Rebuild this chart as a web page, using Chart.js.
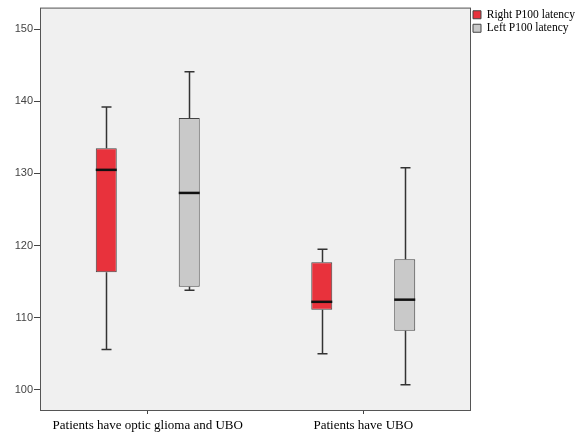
<!DOCTYPE html>
<html><head><meta charset="utf-8">
<script src="https://cdn.jsdelivr.net/npm/chart.js@4.4.1/dist/chart.umd.min.js"></script>
<style>html,body{margin:0;padding:0;background:#fff}#wrap{width:584px;height:432px}</style>
</head><body><div id="wrap"><canvas id="c" width="584" height="432"></canvas></div>
<script>
const categories = ['Patients have optic glioma and UBO', 'Patients have UBO'];
const seriesNames = ['Right P100 latency', 'Left P100 latency'];
const rightMin    = [105.6, 105.0];
const rightQ1     = [116.3, 111.1];
const rightMedian = [130.5, 112.2];
const rightQ3     = [133.5, 117.7];
const rightMax    = [139.2, 119.5];
const leftMin     = [113.8, 100.7];
const leftQ1      = [114.3, 108.2];
const leftMedian  = [127.3, 112.5];
const leftQ3      = [137.7, 118.1];
const leftMax     = [144.1, 130.8];
const yTicks = [100, 110, 120, 130, 140, 150];

const boxPlugin = {
  id: 'boxWhiskers',
  beforeDraw(chart) {
    const {ctx, chartArea: a} = chart;
    ctx.save();
    ctx.fillStyle = '#f0f0f0';
    ctx.fillRect(a.left, a.top, a.right - a.left, a.bottom - a.top);
    ctx.restore();
  },
  afterDatasetsDraw(chart) {
    const ctx = chart.ctx;
    const ys = chart.scales.y;
    chart.data.datasets.forEach((ds, di) => {
      const meta = chart.getDatasetMeta(di);
      meta.data.forEach((bar, i) => {
        const x = Math.round(bar.x) + 0.5;
        const w = bar.width;
        const yLo = ys.getPixelForValue(ds.lows[i]);
        const yQ1 = ys.getPixelForValue(ds.data[i][0]);
        const yQ3 = ys.getPixelForValue(ds.data[i][1]);
        const yHi = ys.getPixelForValue(ds.highs[i]);
        const yMed = ys.getPixelForValue(ds.medians[i]);
        ctx.save();
        ctx.strokeStyle = '#333';
        ctx.lineWidth = 1.5;
        ctx.beginPath();
        ctx.moveTo(x, yQ1); ctx.lineTo(x, yLo);
        ctx.moveTo(x, yQ3); ctx.lineTo(x, yHi);
        const cw = 5;
        ctx.moveTo(x - cw, yLo); ctx.lineTo(x + cw, yLo);
        ctx.moveTo(x - cw, yHi); ctx.lineTo(x + cw, yHi);
        ctx.stroke();
        ctx.strokeStyle = '#111';
        ctx.lineWidth = 2.5;
        ctx.beginPath();
        ctx.moveTo(bar.x - w / 2, yMed); ctx.lineTo(bar.x + w / 2, yMed);
        ctx.stroke();
        ctx.restore();
      });
    });
  },
  afterDraw(chart) {
    const {ctx, chartArea: a} = chart;
    ctx.save();
    ctx.strokeStyle = '#555';
    ctx.lineWidth = 1;
    ctx.strokeRect(a.left + 0.5, a.top + 0.5, a.right - a.left - 1, a.bottom - a.top);
    ctx.restore();
  }
};

new Chart(document.getElementById('c'), {
  type: 'bar',
  data: {
    labels: categories,
    datasets: [
      {
        label: seriesNames[0],
        data: rightQ1.map((q, i) => [q, rightQ3[i]]),
        lows: rightMin, highs: rightMax, medians: rightMedian,
        backgroundColor: '#e8323c', borderColor: '#444', borderWidth: 1, borderSkipped: false
      },
      {
        label: seriesNames[1],
        data: leftQ1.map((q, i) => [q, leftQ3[i]]),
        lows: leftMin, highs: leftMax, medians: leftMedian,
        backgroundColor: '#c9c9c9', borderColor: '#444', borderWidth: 1, borderSkipped: false
      }
    ]
  },
  options: {
    responsive: false,
    animation: false,
    devicePixelRatio: 1,
    categoryPercentage: 0.77,
    barPercentage: 0.253,
    layout: {padding: {top: 7, left: 0, right: 0, bottom: 0}},
    plugins: {
      tooltip: {enabled: false},
      legend: {
        position: 'right',
        align: 'start',
        maxWidth: 113,
        labels: {
          boxWidth: 8, boxHeight: 8, padding: 2,
          color: '#000',
          font: {family: 'Liberation Serif', size: 11.5}
        }
      }
    },
    scales: {
      x: {
        type: 'category',
        offset: true,
        afterFit(s) { s.height = 22; },
        grid: {display: true, drawOnChartArea: false, offset: false, tickLength: 4, tickColor: '#444'},
        border: {display: false},
        ticks: {color: '#000', padding: 4, maxRotation: 0, autoSkip: false, font: {family: 'Liberation Serif', size: 13}}
      },
      y: {
        min: 97.2, max: 153,
        afterFit(s) { s.width = 40; },
        afterBuildTicks(s) { s.ticks = yTicks.map(v => ({value: v})); },
        grid: {display: true, drawOnChartArea: false, tickLength: 6, tickColor: '#444'},
        border: {display: false},
        ticks: {color: '#444', padding: 1, font: {family: 'Liberation Sans', size: 11}}
      }
    }
  },
  plugins: [boxPlugin]
});
</script>
</body></html>
